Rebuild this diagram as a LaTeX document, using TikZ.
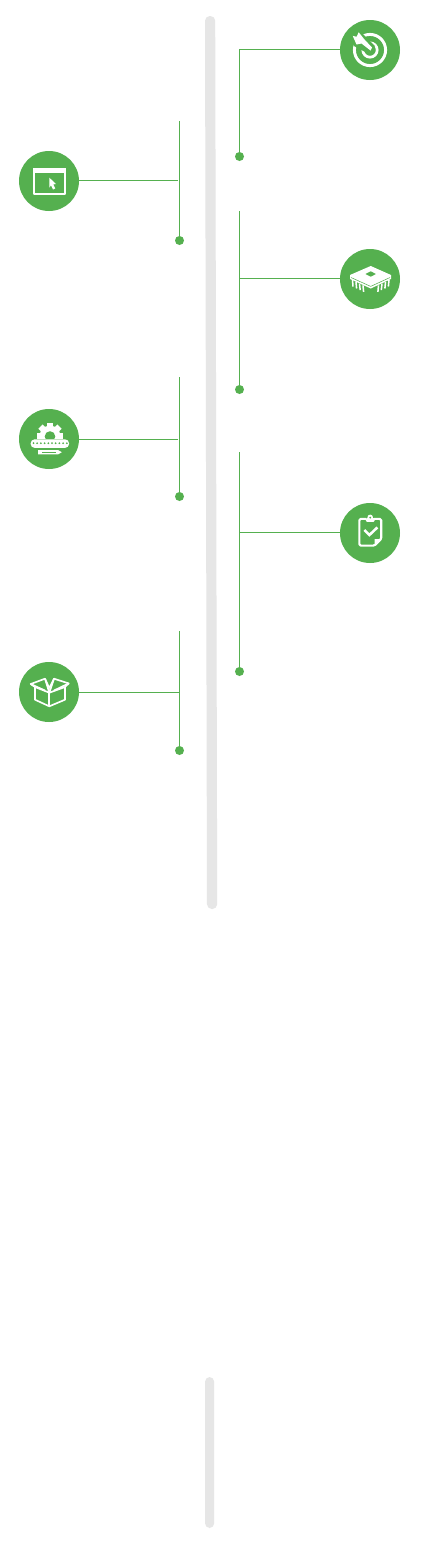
\documentclass[tikz,border=0pt]{standalone}
\definecolor{brandgreen}{HTML}{55B04F}
\definecolor{bargrey}{HTML}{E6E6E6}
\tikzset{
  x=0.75pt,y=-0.75pt,
  badge/.style={circle,fill=brandgreen,draw=none,minimum size=45pt,inner sep=0pt},
  tip/.style={circle,fill=brandgreen,draw=none,minimum size=6.75pt,inner sep=0pt},
  wire/.style={draw=brandgreen,line width=0.8pt},
  glyph/.style={draw=white,line width=1.5pt,line join=round},
  bar/.style={fill=bargrey,draw=none,rounded corners=3.6pt}
}
\begin{document}
\begin{tikzpicture}
\useasboundingbox (0,0) rectangle (422,1543);
\fill[white] (0,0) rectangle (422,1543);
% timeline bars
\fill[bar] (205,16) -- (215.2,16) -- (217.2,909) -- (207,909) -- cycle;
\fill[bar] (205,1377) -- (214.2,1377) -- (214.2,1528) -- (205,1528) -- cycle;
% badges
\node[badge] (target) at (370,50) {};
\node[badge] (chip) at (370,279) {};
\node[badge] (clip) at (370,533) {};
\node[badge] (window) at (49,181) {};
\node[badge] (gear) at (49,439) {};
\node[badge] (box) at (49,692) {};
% end dots
\node[tip] (d1) at (239.5,156.5) {};
\node[tip] (d2) at (239.5,389.5) {};
\node[tip] (d3) at (239.5,671.5) {};
\node[tip] (d4) at (179.5,240.5) {};
\node[tip] (d5) at (179.5,496.5) {};
\node[tip] (d6) at (179.5,750.5) {};
% connector ends
\coordinate (e1) at (239.5,49.5);
\coordinate (e2) at (239.5,211);
\coordinate (h2) at (239.5,278.5);
\coordinate (e3) at (239.5,452);
\coordinate (h3) at (239.5,532.5);
\coordinate (e4) at (179.5,121);
\coordinate (h4) at (178,180.5);
\coordinate (e5) at (179.5,377);
\coordinate (h5) at (178,439.5);
\coordinate (e6) at (179.5,631);
\coordinate (h6) at (179.5,692.5);
% connectors
\draw[wire] (target.west |- e1) -- (e1) -- (d1.center);
\draw[wire] (e2) -- (d2.center);
\draw[wire] (chip.west |- h2) -- (h2);
\draw[wire] (e3) -- (d3.center);
\draw[wire] (clip.west |- h3) -- (h3);
\draw[wire] (e4) -- (d4.center);
\draw[wire] (window.east |- h4) -- (h4);
\draw[wire] (e5) -- (d5.center);
\draw[wire] (gear.east |- h5) -- (h5);
\draw[wire] (e6) -- (d6.center);
\draw[wire] (box.east |- h6) -- (h6);
% target icon
\draw[white,line width=2.2pt] (370,50) circle[radius=15.6];
\draw[white,line width=2pt] (370,50) circle[radius=7.2];
\fill[brandgreen] (349.5,35) -- (358,29) -- (375,46) -- (369,54) -- (354,46) -- cycle;
\fill[white] (352.7,35.8) -- (356.5,36.8) -- (358.7,32.3) -- (364.5,39.5) -- (372,47.5) -- (370.5,50.5) -- (361.5,43.5) -- (356.5,44.5) -- cycle;
% window icon
\draw[glyph] (34.1,168.8) rectangle (64.8,193.6);
\fill[white] (33.3,168) rectangle (65.5,172.6);
\fill[white] (49.3,177.6) -- (55.9,184) -- (53.2,184.4) -- (55.3,188.4) -- (53,189.5) -- (51,185.4) -- (49.3,187.6) -- cycle;
% chip icon
\fill[white,line join=round] (350,275) -- (370.7,266) -- (391,275) -- (391,279) -- (370.7,288.5) -- (350,279) -- cycle;
\draw[brandgreen,line width=0.4pt] (351,277.5) -- (370.7,286.4) -- (390,277.5);
\fill[brandgreen] (365.5,274) -- (370.7,271.3) -- (375.9,274) -- (370.7,276.7) -- cycle;
\foreach \px/\py/\qx in {352.5/280/353,356/282/356.6,359.5/283.6/360.2,363/285.4/363.6,378.5/285.4/377.9,382/283.6/381.3,385.5/282/384.9,389/280/388.4}{
  \draw[white,line width=1.15pt] (\px,\py) -- (\qx,\py+6.5);
}
% gear icon
\begin{scope}
\clip (20,415) rectangle (80,438.2);
\foreach \a in {0,45,...,315}{
  \fill[white,rotate around={\a:(50,436)}] (47,422.6) rectangle (53,430);
}
\fill[white] (50,436) circle[radius=10.4];
\fill[brandgreen] (50,436.5) circle[radius=5.3];
\end{scope}
\fill[white,rounded corners=2.8pt] (30.7,439.4) rectangle (69,447.8);
\foreach \dx in {33.5,37.2,...,67}{
  \fill[brandgreen] (\dx,443.2) circle[radius=1];
}
\fill[white] (38,450) -- (58,450) -- (61.8,452.2) -- (58,454.4) -- (38,454.4) -- cycle;
\fill[brandgreen] (42,451.8) rectangle (56,452.6);
% clipboard icon
\draw[glyph,line width=1.6pt,rounded corners=1pt] (366,518.9) -- (359.4,518.9) -- (359.4,545.6) -- (374.5,545.6) -- (381.2,539) -- (381.2,518.9) -- (374,518.9);
\fill[white,rounded corners=0.8pt] (365.8,518) rectangle (374.6,521.8);
\fill[white] (370.2,517.4) circle[radius=2.8];
\fill[brandgreen] (370.2,517.6) circle[radius=1];
\draw[white,line width=1.9pt] (364.4,530) -- (369.4,535) -- (377.4,527.4);
\fill[white] (374.6,539) -- (381.8,539) -- (374.6,546.2) -- cycle;
% box icon
\draw[glyph,line width=1.25pt] (35,687) -- (49.3,692.7) -- (65,687) -- (65,699.7) -- (49.3,706.3) -- (35,699.7) -- cycle;
\draw[glyph,line width=1.25pt] (49.3,692.7) -- (49.3,706.3);
\draw[glyph,line width=1.25pt] (35,687) -- (30.7,684) -- (45,678.7) -- (49.3,688) -- (54,678.7) -- (68.7,683.4) -- (65,687);
\draw[glyph,line width=1.25pt] (30.7,684) -- (45,690.5);
\draw[glyph,line width=1.25pt] (68.7,683.4) -- (54,690.5);
\draw[glyph,line width=1.25pt] (45,678.7) -- (49.3,692.7) -- (54,678.7);
\end{tikzpicture}
\end{document}
